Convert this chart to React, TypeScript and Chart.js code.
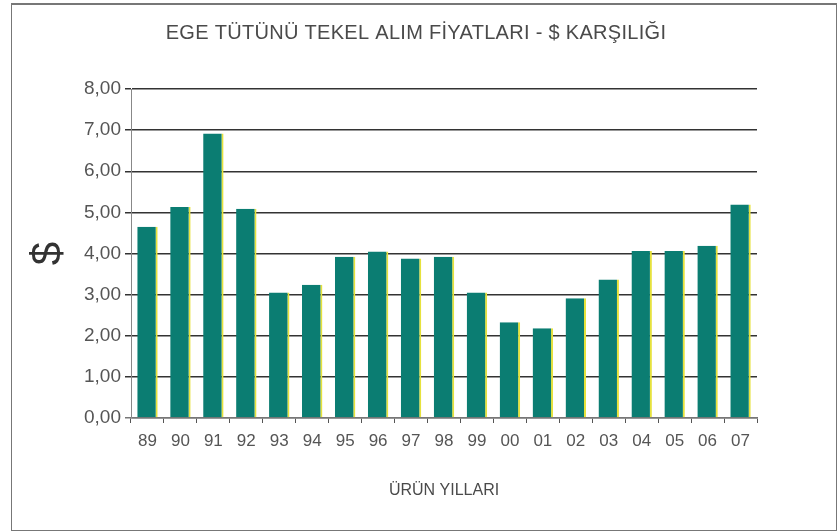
import React, { useEffect, useRef } from "react";
import { Chart, registerables } from "chart.js";

Chart.register(...registerables);

const years = ["89", "90", "91", "92", "93", "94", "95", "96", "97", "98", "99", "00", "01", "02", "03", "04", "05", "06", "07"];
const prices = [4.65, 5.13, 6.92, 5.09, 3.05, 3.24, 3.92, 4.05, 3.88, 3.92, 3.05, 2.33, 2.18, 2.91, 3.37, 4.06, 4.06, 4.19, 5.19];
const titleText = "EGE TÜTÜNÜ TEKEL ALIM FİYATLARI - $ KARŞILIĞI";
const xTitle = "ÜRÜN YILLARI";
const yTitle = "$";

const FONT = "'Liberation Sans', Arial, sans-serif";

const topTitlePlugin = {
  id: "topTitle",
  afterDraw(chart: any) {
    const ctx = chart.ctx as CanvasRenderingContext2D;
    ctx.save();
    ctx.font = `normal 20px ${FONT}`;
    ctx.fillStyle = "#4a4a4a";
    ctx.textAlign = "center";
    ctx.textBaseline = "middle";
    try {
      (ctx as any).letterSpacing = "0.3px";
    } catch (e) {}
    ctx.fillText(titleText, 416, 33);
    ctx.restore();
  },
};

export default function App() {
  const ref = useRef<HTMLCanvasElement | null>(null);

  useEffect(() => {
    if (!ref.current) return;
    const chart = new Chart(ref.current, {
      type: "bar",
      data: {
        labels: years,
        datasets: [
          {
            data: prices,
            backgroundColor: "#0b7d72",
            borderColor: "#e6e23c",
            borderWidth: { left: 0, right: 2, top: 0, bottom: 0 },
            borderSkipped: false,
            barPercentage: 0.62,
            categoryPercentage: 1,
          },
        ],
      },
      options: {
        animation: false,
        responsive: false,
        maintainAspectRatio: false,
        layout: { padding: { left: 0, right: 80, top: 89, bottom: 0 } },
        plugins: {
          legend: { display: false },
          tooltip: { enabled: false },
          title: { display: false },
        },
        scales: {
          x: {
            afterFit: (s: any) => {
              s.height = 113;
            },
            grid: {
              offset: true,
              drawOnChartArea: false,
              drawTicks: true,
              tickLength: 5,
              color: "#555",
            },
            border: { display: true, color: "#777", width: 1.5 },
            ticks: {
              color: "#555",
              font: { family: FONT, size: 17 },
              padding: 8,
            },
            title: {
              display: true,
              text: xTitle,
              color: "#4a4a4a",
              font: { family: FONT, size: 16 },
              padding: { top: 0, bottom: 31 },
            },
          },
          y: {
            min: 0,
            max: 8,
            afterFit: (s: any) => {
              s.width = 131;
            },
            grid: {
              color: (ctx: any) => (ctx.tick && ctx.tick.value === 0 ? "#777" : "#333"),
              lineWidth: 1.5,
              drawTicks: true,
              tickLength: 6,
            },
            border: { display: true, color: "#888", width: 1 },
            ticks: {
              stepSize: 1,
              color: "#555",
              font: { family: FONT, size: 19 },
              padding: 4,
              callback: (v: any) => Number(v).toFixed(2).replace(".", ","),
            },
            title: {
              display: true,
              text: yTitle,
              color: "#333",
              font: { family: "'Liberation Sans Narrow', 'Liberation Sans', sans-serif", size: 42, weight: "normal" },
              padding: { top: 24, bottom: 0 },
            },
          },
        },
      },
      plugins: [topTitlePlugin],
    });
    return () => chart.destroy();
  }, []);

  return (
    <div style={{ position: "fixed", left: 0, top: 0, width: 837, height: 531, background: "#fff" }}>
      <canvas ref={ref} width={837} height={531} style={{ position: "absolute", left: 0, top: 0, width: 837, height: 531 }} />
      <div
        style={{
          position: "absolute",
          left: 11,
          top: 3,
          width: 824,
          height: 525,
          border: "1px solid #777",
          borderTopWidth: 2,
          pointerEvents: "none",
        }}
      />
    </div>
  );
}
